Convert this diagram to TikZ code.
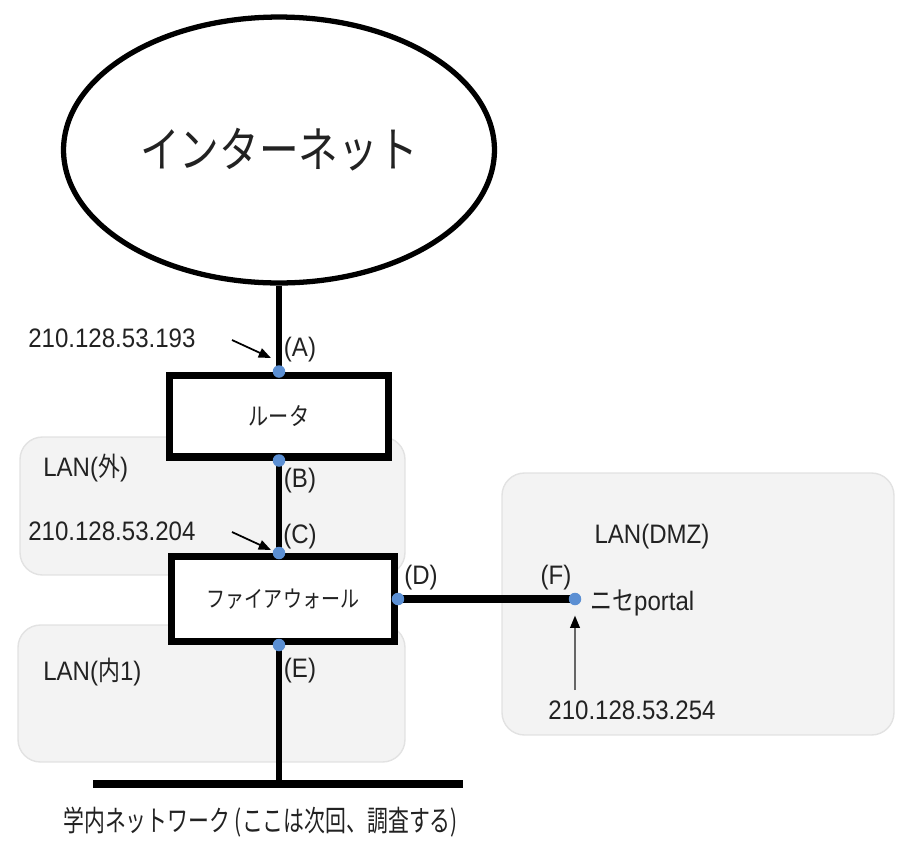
\documentclass[tikz,border=0pt]{standalone}
\usepackage{fontspec}
\setmainfont[FakeStretch=0.9]{Liberation Sans}
\newfontfamily\jp[FakeStretch=0.82]{Noto Sans CJK JP}
\newfontfamily\jpn[FakeStretch=0.72]{Noto Sans CJK JP}
\usetikzlibrary{shapes.geometric,arrows.meta,calc}
\pgfdeclarelayer{lanlayer}
\pgfdeclarelayer{wirelayer}
\pgfsetlayers{lanlayer,wirelayer,main}
\definecolor{ptblue}{HTML}{5B8FD3}
\definecolor{lanfill}{HTML}{F3F3F3}
\definecolor{lanline}{HTML}{E2E2E2}
\definecolor{txt}{HTML}{222222}
\begin{document}
\begin{tikzpicture}[x=0.02cm,y=-0.02cm,
  lanbox/.style={fill=lanfill, draw=lanline, line width=0.8pt, rounded corners=0.45cm},
  wire/.style={line width=3.4pt, black},
  devbox/.style={draw, line width=4pt, fill=white, inner sep=0, text=txt},
  pt/.style={circle, fill=ptblue, minimum size=0.25cm, inner sep=0},
  lat/.style={font=\fontsize{15.2}{18}\selectfont, inner sep=0, text=txt},
  ptr/.style={line width=1pt, -{Triangle[length=7pt,width=5.5pt,color=black]}},
]
\useasboundingbox (0,0) rectangle (897,840);

% LAN areas
\begin{pgfonlayer}{lanlayer}
\path[lanbox] (20,437) rectangle (405,575);
\path[lanbox] (18,625) rectangle (405,762);
\path[lanbox] (502,473) rectangle (894,735);
\end{pgfonlayer}

% Internet
\node[ellipse, draw, line width=3pt, minimum width=8.62cm, minimum height=5.32cm, inner sep=0, text=txt,
      font=\jp\fontsize{27.5}{32}\selectfont] (inet) at (279,150) {インターネット};

% devices
\node[devbox, minimum width=4.38cm, minimum height=1.64cm, font=\jp\fontsize{14}{16}\selectfont]
  (router) at (279,416) {ルータ};
\node[devbox, minimum width=4.46cm, minimum height=1.7cm, font=\jp\fontsize{13.2}{16}\selectfont]
  (fw) at (283,599) {ファイアウォール};

% bus
\coordinate (busL) at (93,784);
\coordinate (busR) at (463,784);

% interface points
\node[pt] (A) at (router.north) {};
\node[pt] (B) at (router.south) {};
\node[pt] (C) at (router.south |- fw.north) {};
\node[pt] (E) at (router.south |- fw.south) {};
\node[pt] (D) at (fw.east) {};
\node[pt] (F) at (575,599) {};
\coordinate (busM) at (E |- busL);

% wires
\begin{pgfonlayer}{wirelayer}
\draw[wire] (inet.south) -- (A.center);
\draw[wire] (B.center) -- (C.center);
\draw[wire] (E.center) -- (busM);
\draw[wire, line width=4pt] (D.center) -- (F.center);
\draw[line width=4.6pt] (busL) -- (busR);
\end{pgfonlayer}

% labels
\node[lat] (lA) at (300,350) {(A)};
\node[lat] (lB) at (300,481) {(B)};
\node[lat] (lC) at (300,537) {(C)};
\node[lat] (lD) at (421,578) {(D)};
\node[lat] (lE) at (300,671) {(E)};
\node[lat] (lF) at (556,578) {(F)};

\node[lat, anchor=west] (ip1) at (28,338) {210.128.53.193};
\node[lat, anchor=west] (ip2) at (28,531) {210.128.53.204};
\node[lat] (ip3) at (632,710) {210.128.53.254};

\node[lat, anchor=west] (lanout) at (43,468) {LAN({\jp 外})};
\node[lat, anchor=west] (lanin) at (43,672) {LAN({\jp 内}1)};
\node[lat] (landmz) at (652,537) {LAN(DMZ)};
\node[lat, anchor=west] (portal) at (590,603) {{\jp ニセ}portal};

% pointer arrows
\coordinate (a1s) at (232,340);
\coordinate (a1e) at (271,358);
\draw[ptr] (a1s) -- (a1e);
\coordinate (a2s) at (232,532);
\coordinate (a2e) at (271,550);
\draw[ptr] (a2s) -- (a2e);
\coordinate (a3s) at (575,690);
\draw[ptr, draw=gray!80!black, shorten >=0.2cm] (a3s) -- (F);

% bottom caption
\node[anchor=west, inner sep=0, text=txt, font=\jpn\fontsize{16.5}{20}\selectfont] (net) at (63,822)
  {学内ネットワーク (ここは次回、調査する)};
\end{tikzpicture}
\end{document}
